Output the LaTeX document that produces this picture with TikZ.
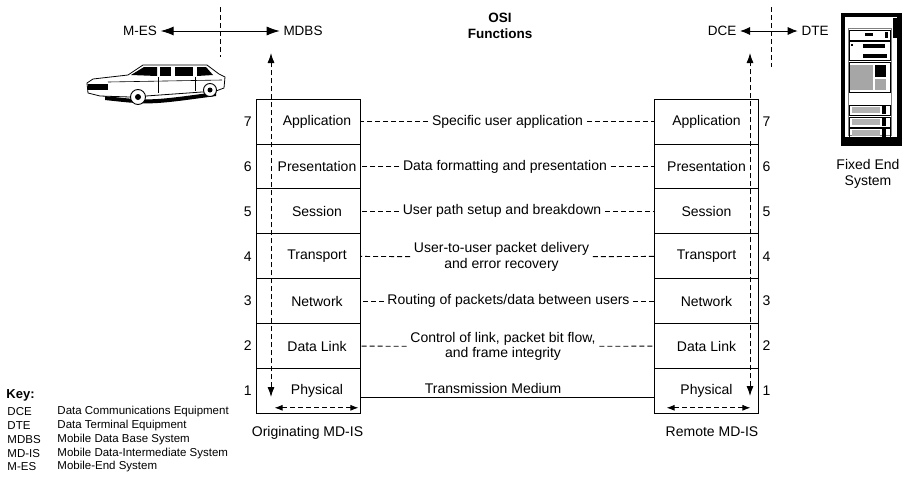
\documentclass[tikz,border=0pt]{standalone}
\usepackage{fontspec}
\setmainfont{Liberation Sans}
\usetikzlibrary{arrows.meta}

\begin{document}
\begin{tikzpicture}[x=1pt, y=-1pt, line width=0.9pt,
    font=\fontsize{14}{15.5}\selectfont,
    >={Latex[length=10pt,width=7pt]},
    layer/.style={draw, rectangle, minimum width=104pt, minimum height=44.9pt, inner xsep=0pt},
    orig/.style={layer, execute at begin node={\hspace*{18pt}}},
    func/.style={align=center},
    link/.style={dash pattern=on 5pt off 3pt},
    top/.style={font=\fontsize{13.5}{15}\selectfont},
    keyline/.style={anchor=west, inner sep=0pt, font=\fontsize{11.5}{13}\selectfont}]
  \useasboundingbox (0,0) rectangle (904,485);

  % originating MD-IS stack
  \node[orig, label=left:7] (o7) at (308,121.5) {Application};
  \node[orig, label=left:6] (o6) at (308,166.4) {Presentation};
  \node[orig, label=left:5] (o5) at (308,211.3) {Session};
  \node[orig, label=left:4] (o4) at (308,256.2) {Transport};
  \node[orig, label=left:3] (o3) at (308,301.1) {Network};
  \node[orig, label=left:2] (o2) at (308,346) {Data Link};
  \node[orig, label=left:1] (o1) at (308,390.9) {Physical};
  \node (orig) at (307.5,433) {Originating MD-IS};

  % remote MD-IS stack
  \node[layer, label=right:7] (r7) at (706.5,121.5) {Application};
  \node[layer, label=right:6] (r6) at (706.5,166.4) {Presentation};
  \node[layer, label=right:5] (r5) at (706.5,211.3) {Session};
  \node[layer, label=right:4] (r4) at (706.5,256.2) {Transport};
  \node[layer, label=right:3] (r3) at (706.5,301.1) {Network};
  \node[layer, label=right:2] (r2) at (706.5,346) {Data Link};
  \node[layer, label=right:1] (r1) at (706.5,390.9) {Physical};
  \node (remote) at (712,432) {Remote MD-IS};

  % peer functions
  \node[func] (f7) at (507.5,121.5) {Specific user application};
  \node[func] (f6) at (505,166.4) {Data formatting and presentation};
  \node[func] (f5) at (502,211.3) {User path setup and breakdown};
  \node[func] (f4) at (501.5,257) {User-to-user packet delivery\\and error recovery};
  \node[func] (f3) at (508.5,301.1) {Routing of packets/data between users};
  \node[func] (f2) at (503,346.5) {Control of link, packet bit flow,\\and frame integrity};
  \node (tm) at (493,388) {Transmission Medium};

  \path[link] (f7) edge (o7) edge (r7);
  \path[link] (f6) edge (o6) edge (r6);
  \path[link] (f5) edge (o5) edge (r5);
  \path[link] (f4) edge (o4) edge (r4);
  \path[link] (f3) edge (o3) edge (r3);
  \path[link] (f2) edge (o2) edge (r2);
  \draw ([yshift=-7pt]o1.east) -- ([yshift=-7pt]r1.west);

  % physical medium arrows
  \draw[<->, link, >={Latex[length=8pt,width=6pt]}] ([xshift=19pt,yshift=6pt]o1.south west) -- ([xshift=-2pt,yshift=6pt]o1.south east);
  \draw[<->, link, >={Latex[length=8pt,width=6pt]}] ([xshift=12.5pt,yshift=6pt]r1.south west) -- ([xshift=-8.5pt,yshift=6pt]r1.south east);

  % top labels
  \node[top] (mes) at (140,31) {M-ES};
  \node[top] (mdbs) at (303,31) {MDBS};
  \node[top] (dce) at (722,31) {DCE};
  \node[top] (dte) at (815,31) {DTE};
  \node[align=center, font=\fontsize{13.5}{16}\selectfont\bfseries] (osi) at (500,26) {OSI\\Functions};
  \draw[<->, >={Latex[length=13pt,width=9pt]}] (mes) -- (mdbs);
  \draw[<->, >={Latex[length=10pt,width=8pt]}] (dce) -- (dte);
  \draw[link] (220,7) -- (220,57);
  \draw[link] (771,7) -- (771,67);

  % data path through the stacks
  \coordinate (oup) at (271,53);
  \coordinate (odown) at (271,397);
  \coordinate (rup) at (750,53);
  \coordinate (rdown) at (750,396);
  \draw[<->, link] (odown) -- (oup);
  \draw[<->, link] (rdown) -- (rup);

  % fixed end system (rack)
  \fill (841,13) rectangle (902,146);
  \fill[white] (845,17) rectangle (897,137);
  \draw[line width=0.6pt, gray] (848,28) rectangle (891,135);
  \fill (893,18) rectangle (897,38);
  \draw[line width=0.6pt] (849,30) rectangle (890,40);
  \fill (865,33) rectangle (873,36);
  \fill (885,32) rectangle (888,38);
  \draw[line width=0.6pt] (849,41) rectangle (890,60);
  \fill (863,44) rectangle (885,48);
  \fill (863,54) rectangle (887,58);
  \fill (851,44) rectangle (853,46);
  \draw[line width=0.6pt] (849,62) rectangle (890,92);
  \fill[gray!70] (850,65) rectangle (873,90);
  \fill (875,65) rectangle (886,77);
  \fill[gray!70] (875,79) rectangle (886,90);
  \draw[line width=0.6pt] (849,105) rectangle (890,115);
  \fill[gray!60] (852,107) rectangle (880,113);
  \fill (882,106) rectangle (886,114);
  \draw[line width=0.6pt] (849,117) rectangle (890,127);
  \fill[gray!60] (852,119) rectangle (880,125);
  \fill (882,118) rectangle (886,126);
  \draw[line width=0.6pt] (849,128) rectangle (890,137);
  \fill[gray!60] (852,130) rectangle (880,136);
  \fill (882,129) rectangle (886,137);
  \node[align=center] (fes) at (868,174) {Fixed End\\System};

  % limousine
  \fill (105,96) .. controls (150,101) .. (216,92) -- (216,96) .. controls (150,105) .. (105,100) -- cycle;
  \filldraw[fill=white, line width=0.8pt] (87,83) -- (93,79) -- (128,75) -- (143,65) -- (207,65) -- (219,74) -- (225,77) -- (224,88) -- (216,91) -- (202,92) -- (146,96) -- (130,97) -- (100,96) -- (88,93) -- cycle;
  \fill (131,75) -- (144,67) -- (157,67) -- (157,76) -- cycle;
  \fill (160,67) rectangle (171,76);
  \fill (175,67) rectangle (193,76);
  \fill (197,67) -- (206,67) -- (213,75) -- (197,76) -- cycle;
  \fill (88,84) rectangle (108,90);
  \draw[line width=0.6pt] (108,82) -- (222,80);
  \draw[line width=0.6pt] (158,77) -- (158,93) (195,77) -- (195,91);
  \filldraw[fill=white] (138,97) circle (7.5);
  \fill (138,97) circle (3);
  \filldraw[fill=white] (210,90) circle (6.5);
  \fill (210,90) circle (2.5);

  % key
  \node[anchor=west, inner sep=0pt, font=\fontsize{13}{15}\selectfont\bfseries] (key) at (6,395) {Key:};
  \node[keyline] (k1) at (7,412) {DCE};
  \node[keyline] (k1t) at (57,412) {Data Communications Equipment};
  \node[keyline] (k2) at (7,426) {DTE};
  \node[keyline] (k2t) at (57,426) {Data Terminal Equipment};
  \node[keyline] (k3) at (7,440) {MDBS};
  \node[keyline] (k3t) at (57,440) {Mobile Data Base System};
  \node[keyline] (k4) at (7,454) {MD-IS};
  \node[keyline] (k4t) at (57,454) {Mobile Data-Intermediate System};
  \node[keyline] (k5) at (7,467) {M-ES};
  \node[keyline] (k5t) at (57,467) {Mobile-End System};
\end{tikzpicture}
\end{document}
